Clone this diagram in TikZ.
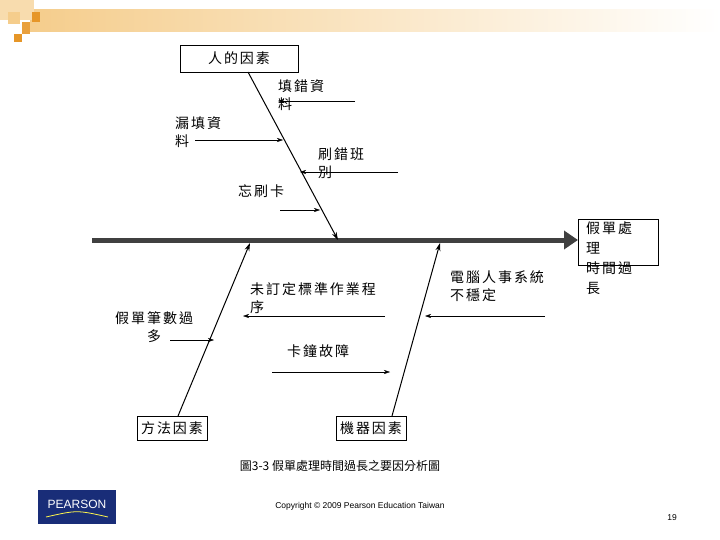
\documentclass[tikz,border=0pt]{standalone}
\usepackage{fontspec}
\setmainfont{Noto Sans CJK TC}
\newfontfamily\spf[LetterSpace=14]{Noto Sans CJK TC}
\newfontfamily\latinf{Liberation Sans}
\usetikzlibrary{arrows.meta}
\definecolor{orng}{RGB}{230,150,40}
\definecolor{lorng}{RGB}{245,205,140}
\definecolor{pblue}{RGB}{25,45,120}
\begin{document}
\begin{tikzpicture}[x=1pt,y=-1pt,
  lbl/.style={anchor=north west,inner sep=0pt,font=\spf\fontsize{14}{18}\selectfont,align=left},
  bx/.style={draw,thick,inner sep=0pt,font=\spf\fontsize{14}{15}\selectfont},
  sub/.style={-{Stealth[length=6pt,width=4pt]},thin},
  bone/.style={-{Stealth[length=8pt,width=5pt]},line width=1pt}]
\useasboundingbox (0,0) rectangle (720,540);
\fill[white] (0,0) rectangle (720,540);
% banner
\shade[left color=lorng,right color=white] (30,10) rectangle (720,32);
\fill[lorng!70] (0,0) rectangle (34,20);
\fill[lorng] (8,12) rectangle (20,24);
\fill[orng] (32,12) rectangle (40,22);
\fill[orng!90] (22,22) rectangle (30,34);
\fill[orng] (14,34) rectangle (22,42);
% boxes
\node[bx,minimum width=118pt,minimum height=27pt] (man) at (239,58.5) {人的因素};
\node[bx,minimum width=70pt,minimum height=24pt] (meth) at (172,428) {方法因素};
\node[bx,minimum width=70pt,minimum height=24pt] (mach) at (371,428) {機器因素};
\node[draw,thick,minimum width=80pt,minimum height=46pt,inner sep=0pt] (eff) at (618,242) {};
\node[lbl,font=\spf\fontsize{14}{20}\selectfont] at (586,222) {假單處\\理\\時間過\\長};
% spine
\coordinate (s0) at (92,240);
\coordinate (s1) at (578,240);
\draw[line width=5pt,draw=black!75,-{Triangle[length=14pt,width=18pt]}] (s0) -- (s1);
% bones
\coordinate (b1s) at (248,72); \coordinate (b1e) at (338,240);
\draw[bone] (b1s) -- (b1e);
\coordinate (b2s) at (178,416); \coordinate (b2e) at (250,243);
\draw[bone] (b2s) -- (b2e);
\coordinate (b3s) at (392,416); \coordinate (b3e) at (440,243);
\draw[bone] (b3s) -- (b3e);
% sub causes
\node[lbl] at (278,79) {填錯資\\料};
\coordinate (a1) at (355,101); \coordinate (a1e) at (278,101);
\draw[sub] (a1) -- (a1e);
\node[lbl] at (175,116) {漏填資\\料};
\coordinate (a2) at (195,140); \coordinate (a2e) at (283,140);
\draw[sub] (a2) -- (a2e);
\node[lbl] at (318,147) {刷錯班\\別};
\coordinate (a3) at (398,172); \coordinate (a3e) at (300,172);
\draw[sub] (a3) -- (a3e);
\node[lbl] at (238,185) {忘刷卡};
\coordinate (a4) at (280,210); \coordinate (a4e) at (320,210);
\draw[sub] (a4) -- (a4e);
\node[lbl] at (250,282) {未訂定標準作業程\\序};
\coordinate (a5) at (385,316); \coordinate (a5e) at (243,316);
\draw[sub] (a5) -- (a5e);
\node[lbl,align=center] at (115,311) {假單筆數過\\多};
\coordinate (a6) at (170,340); \coordinate (a6e) at (214,340);
\draw[sub] (a6) -- (a6e);
\node[lbl] at (287,344) {卡鐘故障};
\coordinate (a7) at (272,372); \coordinate (a7e) at (390,372);
\draw[sub] (a7) -- (a7e);
\node[lbl] at (450,270) {電腦人事系統\\不穩定};
\coordinate (a8) at (545,316); \coordinate (a8e) at (425,316);
\draw[sub] (a8) -- (a8e);
% caption
\node[font=\fontsize{12}{13}\selectfont] (cap) at (340,466) {圖3-3 假單處理時間過長之要因分析圖};
\node[font=\latinf\fontsize{8.5}{10}\selectfont] (copy) at (360,506) {Copyright © 2009 Pearson Education Taiwan};
\node[font=\latinf\fontsize{8.5}{10}\selectfont] (pg) at (672,518) {19};
\fill[pblue] (38,490) rectangle (116,524);
\node[text=white,font=\latinf\fontsize{12}{13}\selectfont] (logo) at (77,504) {PEARSON};
\draw[yellow!70!white,line width=0.8pt] (46,517) .. controls (77,510) .. (108,517);
\end{tikzpicture}
\end{document}
